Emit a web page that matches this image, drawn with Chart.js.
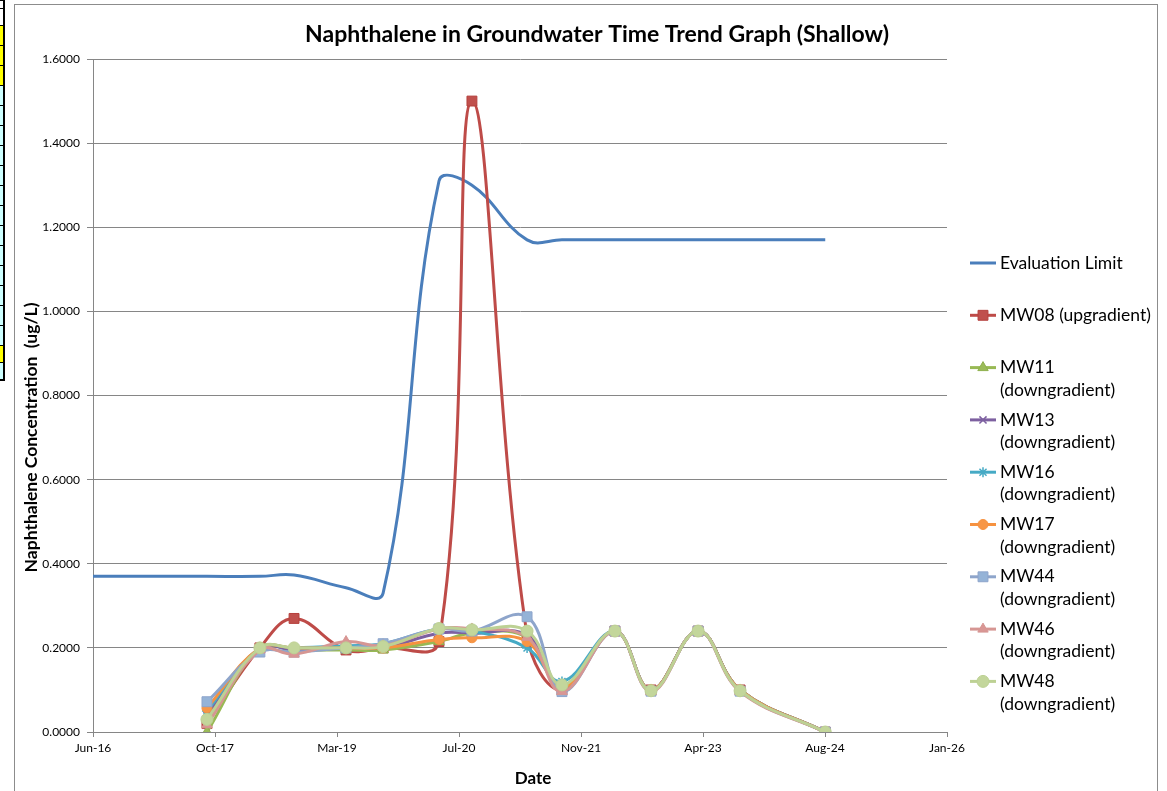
<!DOCTYPE html>
<html>
<head>
<meta charset="utf-8">
<title>Naphthalene in Groundwater Time Trend Graph (Shallow)</title>
<script src="https://cdn.jsdelivr.net/npm/chart.js@4.4.1/dist/chart.umd.min.js"></script>
<style>
  html, body { margin: 0; padding: 0; background: #fff; width: 1167px; height: 791px; overflow: hidden; }
  #sheet { position: absolute; left: 0; top: 0; }
  .cell { position: absolute; left: 0; width: 5px; border-right: 2px solid #000; border-top: 1px solid #000; box-sizing: border-box; }
  #frame { position: absolute; left: 14px; top: 4px; width: 1142px; height: 800px; border: 1px solid #8c8c8c; }
  #c { position: absolute; left: 0; top: 0; }
</style>
</head>
<body>
<div id="sheet"></div>
<div id="frame"></div>
<canvas id="c" width="1167" height="791"></canvas>
<script>
// ---- axis setup ----
const AXIS_START = '2016-06-06';
const AXIS_SPAN_DAYS = 3500;
const TICK_STEP_DAYS = 500;
const tickLabels = ['Jun-16', 'Oct-17', 'Mar-19', 'Jul-20', 'Nov-21', 'Apr-23', 'Aug-24', 'Jan-26'];

// ---- sampling dates ----
const sampleDates = ['2017-09-16', '2018-04-21', '2018-09-08', '2019-04-09', '2019-09-08',
  '2020-04-24', '2020-09-06', '2021-04-20', '2021-09-10', '2022-04-15', '2022-09-10',
  '2023-03-22', '2023-09-10', '2024-08-24'];
const limitDates = ['2016-06-06'].concat(sampleDates);

// ---- concentrations (ug/L) ----
const evaluationLimit = [0.37, 0.37, 0.37, 0.373, 0.343, 0.33, 1.31, 1.30, 1.17, 1.17, 1.17, 1.17, 1.17, 1.17, 1.17];
const mw08 = [0.02, 0.20, 0.27, 0.195, 0.20, 0.215, 1.50, 0.23, 0.10, 0.24, 0.10, 0.24, 0.10, 0.00];
const mw11 = [0.00, 0.20, 0.195, 0.195, 0.195, 0.215, 0.235, 0.225, 0.105, 0.24, 0.10, 0.24, 0.10, 0.00];
const mw13 = [0.04, 0.20, 0.195, 0.20, 0.20, 0.235, 0.235, 0.23, 0.11, 0.24, 0.10, 0.24, 0.10, 0.00];
const mw16 = [0.05, 0.20, 0.20, 0.205, 0.21, 0.245, 0.24, 0.20, 0.12, 0.24, 0.10, 0.24, 0.10, 0.00];
const mw17 = [0.057, 0.20, 0.20, 0.20, 0.20, 0.22, 0.224, 0.215, 0.105, 0.24, 0.10, 0.24, 0.10, 0.00];
const mw44 = [0.072, 0.19, 0.19, 0.20, 0.21, 0.245, 0.24, 0.274, 0.096, 0.24, 0.097, 0.24, 0.097, 0.00];
const mw46 = [0.017, 0.195, 0.185, 0.215, 0.205, 0.245, 0.245, 0.225, 0.096, 0.24, 0.096, 0.24, 0.096, 0.00];
const mw48 = [0.03, 0.20, 0.20, 0.20, 0.203, 0.246, 0.243, 0.24, 0.112, 0.24, 0.098, 0.24, 0.098, 0.00];

// ---- worksheet cells peeking out on the left ----
const sheetRows = [
  [0, 8, '#fff'], [8, 25, '#fff'], [25, 45, '#ffff00'], [45, 65, '#ffff00'], [65, 85, '#ffff00'],
  [85, 105, '#ccffff'], [105, 125, '#ccffff'], [125, 145, '#ccffff'], [145, 165, '#ccffff'],
  [165, 185, '#ccffff'], [185, 205, '#ccffff'], [205, 225, '#ccffff'], [225, 245, '#ccffff'],
  [245, 265, '#ccffff'], [265, 285, '#ccffff'], [285, 305, '#ccffff'], [305, 325, '#ccffff'],
  [325, 345, '#ccffff'], [345, 362, '#ffff00'], [362, 381, '#ccffff']
];
const sheet = document.getElementById('sheet');
sheetRows.forEach(([t, b, bg], i) => {
  const d = document.createElement('div');
  d.className = 'cell';
  d.style.top = t + 'px';
  d.style.height = (b - t) + 'px';
  d.style.background = bg;
  if (i === sheetRows.length - 1) d.style.borderBottom = '2px solid #000';
  sheet.appendChild(d);
});

// ---- chart ----
const FONT = 'Lato, "Open Sans", "DejaVu Sans", sans-serif';
const DAY = 86400000;
function dayOffset(iso) { return Math.round((Date.parse(iso) - Date.parse(AXIS_START)) / DAY); }
function toPoints(dates, values) { return dates.map((d, i) => ({ x: dayOffset(d), y: values[i] })); }

const seriesDefs = [
  { label: 'Evaluation Limit', dates: limitDates, values: evaluationLimit, line: '#4A7EBB', fill: '#4F81BD', stroke: '#4A7EBB', marker: false, r: 0 },
  { label: 'MW08 (upgradient)', dates: sampleDates, values: mw08, line: '#BE4B48', fill: '#C0504D', stroke: '#B5403D', marker: 'rect', r: 7 },
  { label: 'MW11 (downgradient)', dates: sampleDates, values: mw11, line: '#98B954', fill: '#9BBB59', stroke: '#8FB04D', marker: 'triangle', r: 6 },
  { label: 'MW13 (downgradient)', dates: sampleDates, values: mw13, line: '#7D60A0', fill: '#8064A2', stroke: '#7D60A0', marker: 'crossRot', r: 5 },
  { label: 'MW16 (downgradient)', dates: sampleDates, values: mw16, line: '#46AAC5', fill: '#4BACC6', stroke: '#46AAC5', marker: 'star', r: 5 },
  { label: 'MW17 (downgradient)', dates: sampleDates, values: mw17, line: '#F69240', fill: '#F79646', stroke: '#F69240', marker: 'circle', r: 5 },
  { label: 'MW44 (downgradient)', dates: sampleDates, values: mw44, line: '#8EA5CB', fill: '#95B3D7', stroke: '#8EA5CB', marker: 'rect', r: 7 },
  { label: 'MW46 (downgradient)', dates: sampleDates, values: mw46, line: '#D69693', fill: '#D99694', stroke: '#D69693', marker: 'triangle', r: 6 },
  { label: 'MW48 (downgradient)', dates: sampleDates, values: mw48, line: '#BDD194', fill: '#C3D69B', stroke: '#BDD194', marker: 'circle', r: 6 }
];

const datasets = seriesDefs.map((s, i) => {
  const strokeOnly = s.marker === 'crossRot' || s.marker === 'star';
  return {
    label: s.label,
    data: toPoints(s.dates, s.values),
    borderColor: s.line,
    backgroundColor: s.fill,
    borderWidth: 3,
    fill: false,
    tension: 0.4,
    pointStyle: s.marker || 'circle',
    pointRadius: s.marker ? s.r : 0,
    pointHoverRadius: s.marker ? s.r : 0,
    pointBackgroundColor: s.fill,
    pointBorderColor: strokeOnly ? s.line : s.stroke,
    pointBorderWidth: strokeOnly ? 1.5 : 1,
    order: seriesDefs.length - i
  };
});

// Title, axis titles and the wrapped legend on the right
const textPlugin = {
  id: 'chartText',
  afterDraw(chart) {
    const ctx = chart.ctx;
    const area = chart.chartArea;
    ctx.save();
    ctx.fillStyle = '#000';
    ctx.textBaseline = 'middle';
    ctx.textAlign = 'center';

    ctx.font = 'bold 23px ' + FONT;
    ctx.fillText('Naphthalene in Groundwater Time Trend Graph (Shallow)', 597, 35);

    ctx.font = 'bold 17px ' + FONT;
    ctx.fillText('Date', 533, 779);

    ctx.save();
    ctx.translate(31, (area.top + area.bottom) / 2 + 42);
    ctx.rotate(-Math.PI / 2);
    ctx.font = 'bold 17.5px ' + FONT;
    ctx.fillText('Naphthalene Concentration  (ug/L)', 0, 0);
    ctx.restore();

    // legend
    const lx = 970, sample = 26, textX = 1000, maxW = 158;
    const slot = 52.3, lineH = 22.5;
    ctx.font = '17.5px ' + FONT;
    ctx.textAlign = 'left';
    chart.data.datasets.forEach((ds, i) => {
      const y = 263 + i * slot;
      ctx.beginPath();
      ctx.strokeStyle = ds.borderColor;
      ctx.lineWidth = 3;
      ctx.moveTo(lx, y);
      ctx.lineTo(lx + sample, y);
      ctx.stroke();
      if (ds.pointRadius > 0) {
        ctx.fillStyle = ds.pointBackgroundColor;
        ctx.strokeStyle = ds.pointBorderColor;
        ctx.lineWidth = ds.pointBorderWidth;
        Chart.helpers.drawPoint(ctx, { pointStyle: ds.pointStyle, radius: ds.pointRadius, rotation: 0, borderWidth: ds.pointBorderWidth }, lx + sample / 2, y);
      }
      // word wrap
      const words = ds.label.split(' ');
      const lines = [];
      let cur = '';
      words.forEach(w => {
        const t = cur ? cur + ' ' + w : w;
        if (cur && ctx.measureText(t).width > maxW) { lines.push(cur); cur = w; } else { cur = t; }
      });
      lines.push(cur);
      ctx.fillStyle = '#000';
      lines.forEach((ln, k) => ctx.fillText(ln, textX, y + k * lineH));
    });
    ctx.restore();
  }
};

new Chart(document.getElementById('c'), {
  type: 'line',
  data: { datasets },
  plugins: [textPlugin],
  options: {
    responsive: false,
    animation: false,
    devicePixelRatio: 1,
    layout: { padding: { left: 0, top: 59, right: 220, bottom: 0 } },
    plugins: { legend: { display: false }, title: { display: false }, tooltip: { enabled: false } },
    elements: { line: { capBezierPoints: true } },
    scales: {
      x: {
        type: 'linear',
        min: 0,
        max: AXIS_SPAN_DAYS,
        ticks: {
          stepSize: TICK_STEP_DAYS,
          autoSkip: false,
          maxRotation: 0,
          padding: 4,
          color: '#000',
          font: { family: FONT, size: 12 },
          callback: v => tickLabels[Math.round(v / TICK_STEP_DAYS)]
        },
        grid: { drawOnChartArea: false, drawTicks: true, tickLength: 5, color: '#868686' },
        border: { color: '#868686', width: 1 },
        afterFit: s => { s.height = 59; }
      },
      y: {
        min: 0,
        max: 1.6,
        ticks: {
          stepSize: 0.2,
          padding: 7,
          color: '#000',
          font: { family: FONT, size: 12 },
          callback: v => Number(v).toFixed(4)
        },
        grid: { color: '#868686', drawTicks: true, tickLength: 6 },
        border: { color: '#868686', width: 1 },
        afterFit: s => { s.width = 93; }
      }
    }
  }
});
</script>
</body>
</html>
